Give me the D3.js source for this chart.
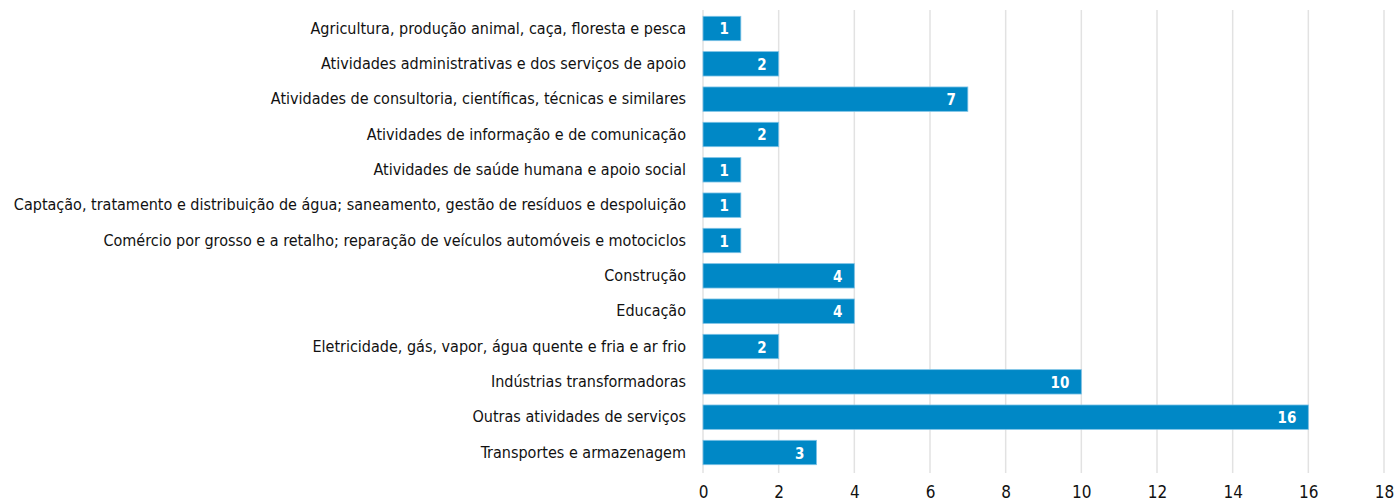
<!DOCTYPE html>
<html lang="pt">
  <head>
    <meta charset="UTF-8" />
    <title>Setores de atividade</title>
    <script src="https://d3js.org/d3.v7.min.js"></script>
    <style>
      body {
        margin: 0;
        background: #fff;
      }
      .cat text {
        font-family: "DejaVu Sans Condensed", sans-serif;
        font-size: 16px;
        fill: #111;
      }
      .xaxis text {
        font-family: "DejaVu Sans Condensed", sans-serif;
        font-size: 17px;
        fill: #111;
      }
      .grid line {
        stroke: #e2e2e2;
        stroke-width: 1.5;
      }
      .bars rect {
        fill: #0088c6;
        stroke: #7cc2e6;
        stroke-width: 0.8;
      }
      .vals text {
        font-family: "DejaVu Sans Condensed", sans-serif;
        font-size: 15px;
        font-weight: bold;
        fill: #fff;
        text-anchor: end;
        dominant-baseline: central;
      }
    </style>
  </head>
  <body>
    <svg width="1395" height="501"></svg>
    <script>
      // categorias e valores
      const categories = [
        "Agricultura, produção animal, caça, floresta e pesca",
        "Atividades administrativas e dos serviços de apoio",
        "Atividades de consultoria, científicas, técnicas e similares",
        "Atividades de informação e de comunicação",
        "Atividades de saúde humana e apoio social",
        "Captação, tratamento e distribuição de água; saneamento, gestão de resíduos e despoluição",
        "Comércio por grosso e a retalho; reparação de veículos automóveis e motociclos",
        "Construção",
        "Educação",
        "Eletricidade, gás, vapor, água quente e fria e ar frio",
        "Indústrias transformadoras",
        "Outras atividades de serviços",
        "Transportes e armazenagem",
      ];
      const values = [1, 2, 7, 2, 1, 1, 1, 4, 4, 2, 10, 16, 3];
      const xTicks = [0, 2, 4, 6, 8, 10, 12, 14, 16, 18];

      const svg = d3.select("svg");
      const mLeft = 703, mRight = 1384, mTop = 11, mBottom = 470;

      const x = d3.scaleLinear().domain([0, 18]).range([mLeft, mRight]);
      const y = d3
        .scaleBand()
        .domain(categories)
        .range([mTop, mBottom])
        .paddingInner(0.31)
        .paddingOuter(0.15);

      // linhas de grelha
      svg
        .append("g")
        .attr("class", "grid")
        .selectAll("line")
        .data(xTicks)
        .enter()
        .append("line")
        .attr("x1", (d) => x(d))
        .attr("x2", (d) => x(d))
        .attr("y1", mTop - 1)
        .attr("y2", mBottom + 3);

      // eixo x
      const xAxis = svg
        .append("g")
        .attr("class", "xaxis")
        .attr("transform", `translate(0,${mBottom})`)
        .call(d3.axisBottom(x).tickValues(xTicks).tickSize(0).tickPadding(16));
      xAxis.select(".domain").remove();
      xAxis.attr("font-family", null).attr("font-size", null);

      // eixo das categorias
      const yAxis = svg
        .append("g")
        .attr("class", "cat")
        .attr("transform", `translate(${mLeft - 17},0)`)
        .call(d3.axisLeft(y).tickSize(0).tickPadding(0));
      yAxis.select(".domain").remove();
      yAxis.attr("font-family", null).attr("font-size", null);

      const rows = categories.map((c, i) => ({ c, v: values[i] }));

      svg
        .append("g")
        .attr("class", "bars")
        .selectAll("rect")
        .data(rows)
        .enter()
        .append("rect")
        .attr("x", x(0))
        .attr("y", (d) => y(d.c))
        .attr("width", (d) => x(d.v) - x(0))
        .attr("height", y.bandwidth());

      svg
        .append("g")
        .attr("class", "vals")
        .selectAll("text")
        .data(rows)
        .enter()
        .append("text")
        .attr("x", (d) => x(d.v) - 12)
        .attr("y", (d) => y(d.c) + y.bandwidth() / 2 + 1)
        .text((d) => d.v);
    </script>
  </body>
</html>
